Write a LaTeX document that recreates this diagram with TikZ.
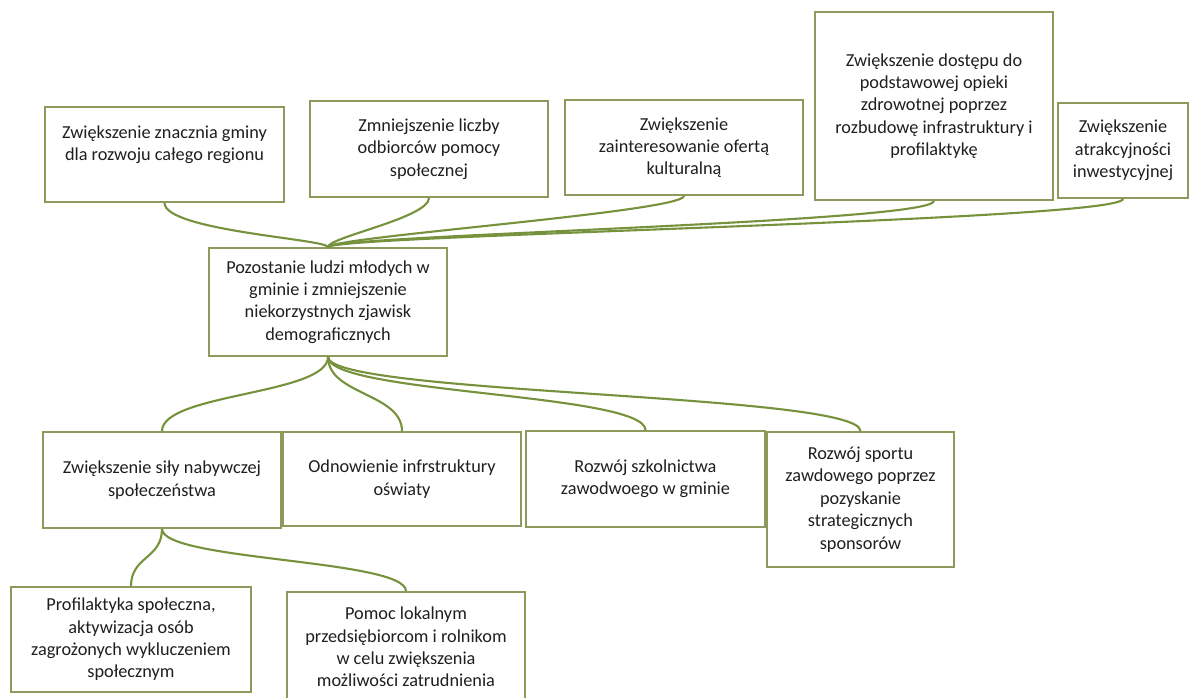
\documentclass[tikz,border=0pt]{standalone}
\usepackage{fontspec}
\setmainfont{Carlito}
\usepackage{tikz}
\usetikzlibrary{arrows.meta}
\definecolor{boxgreen}{RGB}{140,154,92}
\definecolor{linkgreen}{RGB}{118,146,60}
\tikzset{>=latex}
\tikzset{
  box/.style={draw=boxgreen, line width=1.2pt, fill=white, align=center, inner sep=0pt,
    text=black!88, font=\fontsize{13}{15.9}\selectfont},
  link/.style={draw=linkgreen, line width=1.5pt}
}

\begin{document}
\begin{tikzpicture}[x=0.025cm,y=-0.025cm]
  \useasboundingbox (0,0) rectangle (1190,697);

  % top row
  \node[box, minimum width=5.975cm, minimum height=2.375cm] (zn) at (164.5,154.5) {Zwiększenie znacznia gminy\\dla rozwoju całego regionu\\\mbox{}};
  \node[box, minimum width=5.95cm, minimum height=2.4cm] (odb) at (429,149) {Zmniejszenie liczby\\odbiorców pomocy\\społecznej};
  \node[box, minimum width=5.95cm, minimum height=2.375cm] (kult) at (684,147.5) {Zwiększenie\\zainteresowanie ofertą\\kulturalną};
  \node[box, minimum width=5.95cm, minimum height=4.7cm] (zdr) at (934,106) {Zwiększenie dostępu do\\podstawowej opieki\\zdrowotnej poprzez\\rozbudowę infrastruktury i\\profilaktykę};
  \node[box, minimum width=3.25cm, minimum height=2.375cm] (inw) at (1123,150.5) {Zwiększenie\\atrakcyjności\\inwestycyjnej};

  % middle
  \node[box, minimum width=5.95cm, minimum height=2.7cm] (mlodzi) at (328,302) {Pozostanie ludzi młodych w\\gminie i zmniejszenie\\niekorzystnych zjawisk\\demograficznych};

  % lower row
  \node[box, minimum width=5.95cm, minimum height=2.4cm] (sila) at (162,480) {Zwiększenie siły nabywczej\\społeczeństwa};
  \node[box, minimum width=5.95cm, minimum height=2.35cm] (osw) at (402,479) {Odnowienie infrstruktury\\oświaty};
  \node[box, minimum width=5.975cm, minimum height=2.4cm] (szk) at (645.5,479) {Rozwój szkolnictwa\\zawodwoego w gminie};
  \node[box, minimum width=4.675cm, minimum height=3.375cm] (sport) at (860.5,499.5) {Rozwój sportu\\zawdowego poprzez\\pozyskanie\\strategicznych\\sponsorów};

  % bottom row
  \node[box, minimum width=6cm, minimum height=2.625cm] (prof) at (131,639.5) {Profilaktyka społeczna,\\aktywizacja osób\\zagrożonych wykluczeniem\\społecznym};
  \node[box, minimum width=5.95cm, minimum height=2.75cm] (pomoc) at (406,647) {Pomoc lokalnym\\przedsiębiorcom i rolnikom\\w celu zwiększenia\\możliwości zatrudnienia};

  % connectors
  \draw[link] (zn.south) .. controls +(0,28) and +(0,-8) .. (mlodzi.north);
  \draw[link] (odb.south) .. controls +(0,20) and +(0,-10) .. (mlodzi.north);
  \draw[link] (kult.south) .. controls +(0,16) and +(0,-10) .. (mlodzi.north);
  \draw[link] (zdr.south) .. controls +(0,22) and +(0,-12) .. (mlodzi.north);
  \draw[link] (inw.south) .. controls +(0,22) and +(0,-12) .. (mlodzi.north);

  \draw[link] (mlodzi.south) .. controls +(0,38) and +(0,-38) .. (sila.north);
  \draw[link] (mlodzi.south) .. controls +(0,38) and +(0,-38) .. (osw.north);
  \draw[link] (mlodzi.south) .. controls +(0,37) and +(0,-37) .. (szk.north);
  \draw[link] (mlodzi.south) .. controls +(0,38) and +(0,-38) .. (sport.north);

  \draw[link] (sila.south) .. controls +(0,30) and +(0,-30) .. (prof.north);
  \draw[link] (sila.south) .. controls +(0,32) and +(0,-32) .. (pomoc.north);
\end{tikzpicture}
\end{document}
